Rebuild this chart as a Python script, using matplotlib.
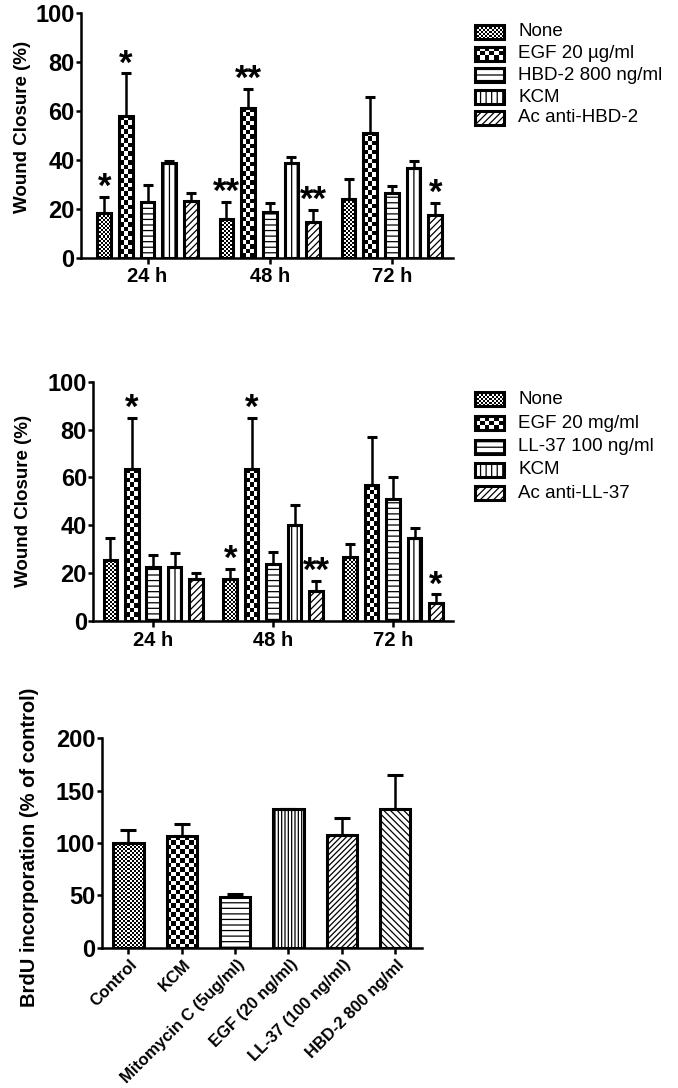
import numpy as np
import matplotlib
matplotlib.use('Agg')
import matplotlib.pyplot as plt
import matplotlib.transforms as mtransforms
from matplotlib.patches import Rectangle

W, H = 678, 1088
plt.rcParams['font.family'] = ['Liberation Sans', 'DejaVu Sans']
plt.rcParams['font.weight'] = 'bold'
plt.rcParams['axes.labelweight'] = 'bold'
plt.rcParams['hatch.linewidth'] = 0.9

# ---- data ----
times = ['24 h', '48 h', '72 h']

hbd_labels = ['None', 'EGF 20 µg/ml', 'HBD-2 800 ng/ml', 'KCM', 'Ac anti-HBD-2']
hbd_mean = [[18.4, 16.0, 23.9],
            [58.1, 61.4, 51.2],
            [22.6, 18.6, 26.3],
            [38.6, 38.9, 36.6],
            [23.3, 14.7, 17.5]]
hbd_sem = [[6.6, 6.8, 8.1],
           [17.3, 7.5, 14.4],
           [7.0, 3.6, 3.0],
           [1.1, 2.1, 3.1],
           [3.0, 4.8, 5.0]]
hbd_sig = [['*', '**', ''],
           ['*', '**', ''],
           ['', '', ''],
           ['', '', ''],
           ['', '**', '*']]

ll_labels = ['None', 'EGF 20 mg/ml', 'LL-37 100 ng/ml', 'KCM', 'Ac anti-LL-37']
ll_mean = [[25.5, 17.4, 26.6],
           [63.4, 63.4, 56.8],
           [22.7, 23.8, 50.8],
           [22.4, 40.3, 34.8],
           [17.7, 12.4, 7.5]]
ll_sem = [[9.0, 4.3, 5.4],
          [21.3, 21.3, 20.2],
          [4.9, 4.9, 9.4],
          [6.2, 8.0, 4.2],
          [2.5, 4.5, 3.6]]
ll_sig = [['', '*', ''],
          ['*', '*', ''],
          ['', '', ''],
          ['', '', ''],
          ['', '**', '*']]

brdu_labels = ['Control', 'KCM', 'Mitomycin C (5ug/ml)', 'EGF (20 ng/ml)',
               'LL-37 (100 ng/ml)', 'HBD-2 800 ng/ml']
brdu_mean = [100.3, 106.7, 48.1, 132.2, 107.3, 132.2]
brdu_sem = [11.7, 11.5, 2.9, 0.0, 16.6, 33.1]

# fill style per series: ('checker', cell px) or ('hatch', pattern)
group_fill = [('checker', 2.0), ('checker', 4.5), ('hatch', '---'),
              ('hatch', '|||'), ('hatch', '/////')]
brdu_fill = [('checker', 2.0), ('checker', 4.5), ('hatch', '---'),
             ('hatch', '|||||'), ('hatch', '//////'), ('hatch', '\\\\\\\\\\')]

EDGE = 2.2

fig = plt.figure(figsize=(W / 100, H / 100), dpi=100)


def px_axes(left, top, right, bottom):
    return fig.add_axes([left / W, 1 - bottom / H, (right - left) / W, (bottom - top) / H])


def checker(ax, rect, cell):
    x0, y0 = rect.get_xy()
    w, h = rect.get_width(), rect.get_height()
    p = ax.transData.transform([(x0, y0), (x0 + w, y0 + h)])
    nx = max(1, int(round(abs(p[1, 0] - p[0, 0]) / cell)))
    ny = max(1, int(round(abs(p[1, 1] - p[0, 1]) / cell)))
    arr = np.indices((ny, nx)).sum(axis=0) % 2
    im = ax.imshow(arr, extent=(x0, x0 + w, y0, y0 + h), cmap='gray', vmin=0, vmax=1,
                   interpolation='nearest', aspect='auto', zorder=2.1)
    im.set_clip_path(rect)


def fill_bars(ax, bars, style):
    for b in bars:
        if style[0] == 'checker':
            checker(ax, b, style[1])
        else:
            b.set_hatch(style[1])


def style_axes(ax, ylabel, ysize, lab_x, lab_y):
    for s in ['top', 'right']:
        ax.spines[s].set_visible(False)
    for s in ['left', 'bottom']:
        ax.spines[s].set_linewidth(1.8)
    ax.tick_params(axis='y', length=3.6, width=1.8, pad=1, labelsize=17)
    ax.tick_params(axis='x', length=4, width=1.8, pad=3)
    ax.set_ylabel(ylabel, fontsize=ysize)
    ax.yaxis.set_label_coords(lab_x, lab_y)


def grouped(ax, means, sems, sigs, step, width, xlim):
    ax.set_xlim(*xlim)
    ax.set_ylim(0, 100)
    g = np.arange(len(times))
    for i, (m, e, sg) in enumerate(zip(means, sems, sigs)):
        x = g + (i - 2) * step
        bars = ax.bar(x, m, width, facecolor='white', edgecolor='black', lw=0, zorder=2)
        fill_bars(ax, bars, group_fill[i])
        ax.bar(x, m, width, fill=False, edgecolor='black', lw=EDGE, zorder=2.5)
        ax.errorbar(x, m, yerr=[np.zeros(len(m)), e], fmt='none', ecolor='black',
                    elinewidth=1.8, capsize=3.5, capthick=2.2, zorder=3)
        for xi, mi, ei, s in zip(x, m, e, sg):
            if s:
                ax.annotate(s, xy=(xi, mi + ei), xytext=(0, 0), textcoords='offset points',
                            ha='center', va='baseline', fontsize=25)
    ax.set_xlim(*xlim)
    ax.set_ylim(0, 100)
    ax.set_yticks([0, 20, 40, 60, 80, 100])
    ax.set_xticks(g)
    ax.set_xticklabels(times, fontsize=14.5)


# ---- panel A: HBD-2 wound closure ----
ax1 = px_axes(81, 13.3, 453, 257.7)
style_axes(ax1, 'Wound Closure (%)', 13.5, -0.135, 0.535)
grouped(ax1, hbd_mean, hbd_sem, hbd_sig, 0.1774, 0.112, (-0.545, 2.5))

# ---- panel B: LL-37 wound closure ----
ax2 = px_axes(93.3, 381.7, 453, 621)
style_axes(ax2, 'Wound Closure (%)', 13.5, -0.17, 0.5)
grouped(ax2, ll_mean, ll_sem, ll_sig, 0.179, 0.113, (-0.5, 2.5))

# ---- panel C: BrdU incorporation ----
ax3 = px_axes(101.7, 738.3, 421.7, 947.7)
style_axes(ax3, 'BrdU incorporation (% of control)', 14.5, -0.195, 0.48)
ax3.set_xlim(-0.5, 5.5)
ax3.set_ylim(0, 200)
xb = np.arange(len(brdu_labels))
for i in range(len(xb)):
    b = ax3.bar([xb[i]], [brdu_mean[i]], 0.57, facecolor='white', edgecolor='black', lw=0, zorder=2)
    fill_bars(ax3, b, brdu_fill[i])
ax3.bar(xb, brdu_mean, 0.57, fill=False, edgecolor='black', lw=EDGE, zorder=2.5)
ax3.errorbar(xb, brdu_mean, yerr=[np.zeros(len(xb)), brdu_sem], fmt='none', ecolor='black',
             elinewidth=1.8, capsize=6, capthick=2.2, zorder=3)
ax3.set_xlim(-0.5, 5.5)
ax3.set_ylim(0, 200)
ax3.set_yticks([0, 50, 100, 150, 200])
ax3.set_xticks(xb)
ax3.set_xticklabels(brdu_labels, fontsize=12, rotation=45, ha='right', va='center',
                    rotation_mode='anchor')
ax3.tick_params(axis='x', pad=6.5)
shift = mtransforms.ScaledTranslation(5 / 72, 0, fig.dpi_scale_trans)
for lab in ax3.get_xticklabels():
    lab.set_transform(lab.get_transform() + shift)

# ---- legends (drawn in figure pixel coordinates) ----
axl = fig.add_axes([0, 0, 1, 1])
axl.set_xlim(0, W)
axl.set_ylim(H, 0)
axl.axis('off')


def legend(labels, rows):
    for lab, yc, st in zip(labels, rows, group_fill):
        r = Rectangle((475, yc - 7), 29, 14, facecolor='white', edgecolor='black', lw=0, zorder=2)
        axl.add_patch(r)
        if st[0] == 'checker':
            checker(axl, r, st[1])
        else:
            r.set_hatch(st[1])
        axl.add_patch(Rectangle((475, yc - 7), 29, 14, fill=False, edgecolor='black', lw=EDGE, zorder=3))
        axl.text(518, yc, lab, fontsize=13.5, fontweight='normal', ha='left', va='center')


legend(hbd_labels, [32, 53.5, 75, 97, 118])
legend(ll_labels, [399.3, 423.3, 446.7, 470, 493.3])
axl.set_xlim(0, W)
axl.set_ylim(H, 0)

fig.savefig('out.png', dpi=100)
